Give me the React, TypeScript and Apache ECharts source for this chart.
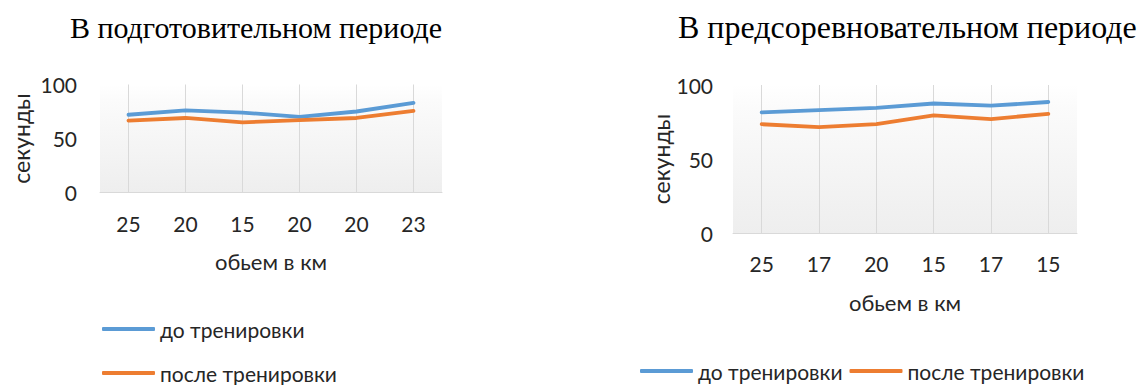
import React, { useEffect, useRef } from "react";
import * as echarts from "echarts";

// Volume per session (km) — category labels for each period
const prepVolumes = ["25", "20", "15", "20", "20", "23"];
const precompVolumes = ["25", "17", "20", "15", "17", "15"];

// Time in seconds before / after training
const prepBefore = [72, 76, 74, 70, 75, 83];
const prepAfter = [66.5, 69, 65, 67, 69, 75.5];
const precompBefore = [81.5, 83, 84.5, 87.5, 86, 88.5];
const precompAfter = [73.5, 71.5, 73.5, 79.5, 77, 80.5];

const yTicks = { min: 0, max: 100, interval: 50 };

const seriesNames = ["до тренировки", "после тренировки"];
const titles = ["В подготовительном периоде", "В предсоревновательном периоде"];

const BLUE = "#5B9BD5";
const ORANGE = "#ED7D31";
const SANS = "Lato, 'Open Sans', sans-serif";
const TEXT = "#262626";
const LABEL_SIZE = 21;
const NAME_SIZE = 22;

const plotFill = () =>
  new echarts.graphic.LinearGradient(0, 0, 0, 1, [
    { offset: 0, color: "#ffffff" },
    { offset: 0.15, color: "#fbfbfb" },
    { offset: 1, color: "#eeeeee" },
  ]);

export default function App() {
  const ref = useRef<HTMLDivElement>(null);

  useEffect(() => {
    if (!ref.current) return;
    const chart = echarts.init(ref.current, undefined, { renderer: "svg" });

    const grids = [
      { left: 100, top: 84.5, width: 342, height: 108 },
      { left: 733, top: 85, width: 344, height: 148 },
    ];

    const xAxisFor = (gridIndex: number, data: string[], height: number) => ({
      type: "category" as const,
      gridIndex,
      data,
      boundaryGap: true,
      axisLine: { show: true, lineStyle: { color: "#d9d9d9", width: 1 } },
      axisTick: {
        show: true,
        alignWithLabel: true,
        inside: true,
        length: height,
        lineStyle: { color: "#d9d9d9", width: 1 },
      },
      axisLabel: { margin: 20, color: TEXT, fontSize: LABEL_SIZE, fontFamily: SANS },
      splitLine: { show: false },
      name: "обьем в км",
      nameLocation: "middle" as const,
      nameGap: 58,
      nameTextStyle: { color: TEXT, fontSize: NAME_SIZE, fontFamily: SANS },
    });

    const yAxisFor = (gridIndex: number, labelMargin: number, nameGap: number) => ({
      type: "value" as const,
      gridIndex,
      min: yTicks.min,
      max: yTicks.max,
      interval: yTicks.interval,
      axisLine: { show: false },
      axisTick: { show: false },
      splitLine: { show: false },
      axisLabel: { margin: labelMargin, color: TEXT, fontSize: LABEL_SIZE, fontFamily: SANS },
      name: "секунды",
      nameLocation: "middle" as const,
      nameGap,
      nameTextStyle: { color: TEXT, fontSize: 23, fontFamily: SANS },
    });

    const lineSeries = (name: string, data: number[], color: string, idx: number) => ({
      type: "line" as const,
      name,
      data,
      xAxisIndex: idx,
      yAxisIndex: idx,
      showSymbol: false,
      symbol: "none",
      lineStyle: { color, width: 3.8, cap: "round" as const, join: "round" as const },
      itemStyle: { color },
      z: 3,
    });

    const legendBase = {
      itemWidth: 53,
      itemHeight: 4,
      icon: "roundRect",
      selectedMode: false,
      padding: 0,
      textStyle: { color: TEXT, fontSize: LABEL_SIZE, fontFamily: SANS, lineHeight: 24 },
    };

    chart.setOption({
      animation: false,
      backgroundColor: "#ffffff",
      grid: grids.map((g) => ({
        ...g,
        show: true,
        borderWidth: 0,
        backgroundColor: plotFill(),
      })),
      xAxis: [
        xAxisFor(0, prepVolumes, grids[0].height),
        xAxisFor(1, precompVolumes, grids[1].height),
      ],
      yAxis: [yAxisFor(0, 23, 68), yAxisFor(1, 20, 61)],
      legend: [
        // first chart: one entry per row
        { ...legendBase, left: 102, top: 317, data: [{ name: seriesNames[0] }] },
        { ...legendBase, left: 102, top: 361, data: [{ name: seriesNames[1] }] },
        // second chart: entries side by side
        {
          ...legendBase,
          orient: "horizontal",
          left: 640,
          top: 359,
          itemGap: 7,
          data: seriesNames.map((n) => ({ name: n })),
        },
      ],
      graphic: [
        {
          type: "text",
          x: 256,
          y: 27,
          style: {
            text: titles[0],
            fill: "#000",
            font: "30px 'Liberation Serif', 'Times New Roman', serif",
            textAlign: "center",
            textVerticalAlign: "middle",
          },
        },
        {
          type: "text",
          x: 678,
          y: 27,
          style: {
            text: titles[1],
            fill: "#000",
            font: "32px 'Liberation Serif', 'Times New Roman', serif",
            textAlign: "left",
            textVerticalAlign: "middle",
          },
        },
      ],
      series: [
        lineSeries(seriesNames[0], prepBefore, BLUE, 0),
        lineSeries(seriesNames[1], prepAfter, ORANGE, 0),
        lineSeries(seriesNames[0], precompBefore, BLUE, 1),
        lineSeries(seriesNames[1], precompAfter, ORANGE, 1),
      ],
    });

    return () => chart.dispose();
  }, []);

  return (
    <div
      ref={ref}
      style={{ position: "fixed", left: 0, top: 0, width: 1147, height: 385 }}
    />
  );
}
